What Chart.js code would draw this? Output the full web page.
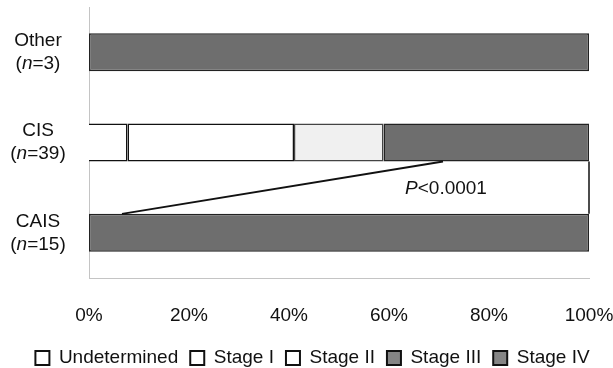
<!DOCTYPE html>
<html>
<head>
<meta charset="utf-8">
<script src="https://cdn.jsdelivr.net/npm/chart.js@4/dist/chart.umd.min.js"></script>
<style>
  html, body { margin: 0; padding: 0; background: #fff; }
  #wrap { width: 613px; height: 368px; }
</style>
</head>
<body>
<div id="wrap"><canvas id="c" width="613" height="368"></canvas></div>
<script>
// Groups (top to bottom) and their sizes
const groups = ['Other', 'CIS', 'CAIS'];
const groupN = [3, 39, 15];

// Stage distribution, percent of each group
const undetermined = [0, 7.7, 0];
const stageI = [0, 33.3, 0];
const stageII = [0, 17.9, 0];
const stageIII = [null, null, null];
const stageIV = [100, 41.1, 100];

// X axis ticks
const xTicks = [0, 20, 40, 60, 80, 100];

// Comparison bracket between CAIS and CIS (percent positions) and its label
const linkFromPct = 6.6;
const linkToPct = 70.8;
const pLabelPct = 71.4;
const pLabel = { italic: 'P', rest: '<0.0001' };

const FONT = '"Liberation Sans", Arial, sans-serif';
const FS = 19;
const DARK = '#6e6e6e';

const seriesStyle = [
  { label: 'Undetermined', fill: '#ffffff', legendFill: '#ffffff', border: '#111', skip: 'start' },
  { label: 'Stage I', fill: '#ffffff', legendFill: '#ffffff', border: '#111', skip: false },
  { label: 'Stage II', fill: '#f0f0f0', legendFill: '#ffffff', border: '#444', skip: false },
  { label: 'Stage III', fill: DARK, legendFill: '#858585', border: '#222', skip: false },
  { label: 'Stage IV', fill: DARK, legendFill: '#858585', border: '#222', skip: false }
];
const seriesData = [undetermined, stageI, stageII, stageIII, stageIV];

const datasets = seriesData.map((d, i) => ({
  label: seriesStyle[i].label,
  data: d,
  backgroundColor: seriesStyle[i].fill,
  borderColor: seriesStyle[i].border,
  borderWidth: 1.5,
  borderSkipped: seriesStyle[i].skip,
  barPercentage: 0.42,
  categoryPercentage: 1
}));

// Two-line category labels with an italic "n"
const groupLabels = {
  id: 'groupLabels',
  afterDraw(chart) {
    const ctx = chart.ctx;
    const y = chart.scales.y;
    const cx = 38;
    const normal = FS + 'px ' + FONT;
    const italic = 'italic ' + FS + 'px ' + FONT;
    ctx.save();
    ctx.fillStyle = '#111';
    ctx.textBaseline = 'middle';
    groups.forEach((g, i) => {
      const py = y.getPixelForValue(i);
      ctx.font = normal;
      ctx.textAlign = 'center';
      ctx.fillText(g, cx, py - 11.5);
      const a = '(', b = 'n', c = '=' + groupN[i] + ')';
      const wa = ctx.measureText(a).width, wc = ctx.measureText(c).width;
      ctx.font = italic;
      const wb = ctx.measureText(b).width;
      let x = cx - (wa + wb + wc) / 2;
      ctx.textAlign = 'left';
      ctx.font = normal;
      ctx.fillText(a, x, py + 11.5); x += wa;
      ctx.font = italic;
      ctx.fillText(b, x, py + 11.5); x += wb;
      ctx.font = normal;
      ctx.fillText(c, x, py + 11.5);
    });
    ctx.restore();
  }
};

// Bracket linking CAIS to the CIS bar, with the P value
const bracket = {
  id: 'bracket',
  afterDatasetsDraw(chart) {
    const ctx = chart.ctx;
    const xs = chart.scales.x;
    const meta = chart.getDatasetMeta(4);
    const cis = meta.data[1], cais = meta.data[2];
    const cisBottom = cis.y + cis.height / 2;
    const caisTop = cais.y - cais.height / 2;
    ctx.save();
    ctx.strokeStyle = '#111';
    ctx.lineWidth = 2;
    ctx.beginPath();
    ctx.moveTo(xs.getPixelForValue(linkFromPct), caisTop);
    ctx.lineTo(xs.getPixelForValue(linkToPct), cisBottom);
    ctx.stroke();
    ctx.lineWidth = 1.5;
    ctx.beginPath();
    ctx.moveTo(xs.getPixelForValue(100), cisBottom);
    ctx.lineTo(xs.getPixelForValue(100), caisTop);
    ctx.stroke();
    // P value label
    const py = (cisBottom + caisTop) / 2 + 1.5;
    ctx.fillStyle = '#111';
    ctx.textBaseline = 'middle';
    ctx.font = 'italic ' + FS + 'px ' + FONT;
    const w1 = ctx.measureText(pLabel.italic).width;
    ctx.font = FS + 'px ' + FONT;
    const w2 = ctx.measureText(pLabel.rest).width;
    const x = xs.getPixelForValue(pLabelPct) - (w1 + w2) / 2;
    ctx.textAlign = 'left';
    ctx.font = 'italic ' + FS + 'px ' + FONT;
    ctx.fillText(pLabel.italic, x, py);
    ctx.font = FS + 'px ' + FONT;
    ctx.fillText(pLabel.rest, x + w1, py);
    ctx.restore();
  }
};

// Centre the legend row under the whole canvas rather than the padded box
const legendShift = {
  id: 'legendShift',
  afterLayout(chart) {
    const lg = chart.legend;
    if (lg) { lg.left += 18; lg.right += 18; }
  }
};

new Chart(document.getElementById('c'), {
  type: 'bar',
  data: { labels: groups, datasets },
  plugins: [groupLabels, bracket, legendShift],
  options: {
    indexAxis: 'y',
    responsive: false,
    animation: false,
    layout: { padding: { top: 7, right: 24, left: 0, bottom: 0 } },
    scales: {
      x: {
        stacked: true,
        min: 0,
        max: 100,
        afterBuildTicks(scale) { scale.ticks = xTicks.map(v => ({ value: v })); },
        afterFit(scale) {
          scale.height = 58.6;
          scale.paddingLeft = 0;
          scale.paddingRight = 0;
        },
        grid: { display: false, drawTicks: false },
        border: { display: true, color: '#c4c4c4', dash: [1, 2], width: 1 },
        ticks: {
          padding: 26.5,
          color: '#111',
          font: { family: FONT, size: FS },
          maxRotation: 0,
          callback: v => v + '%'
        }
      },
      y: {
        stacked: true,
        grid: { display: false, drawTicks: false },
        border: { display: true, color: '#c4c4c4', dash: [1, 2], width: 1 },
        ticks: { display: false },
        afterFit(scale) { scale.width = 89; }
      }
    },
    plugins: {
      tooltip: { enabled: false },
      legend: {
        position: 'bottom',
        maxHeight: 31.4,
        labels: {
          color: '#111',
          font: { family: FONT, size: FS },
          boxWidth: 14,
          boxHeight: 14,
          padding: 12,
          generateLabels(chart) {
            return chart.data.datasets.map((ds, i) => ({
              text: ds.label,
              fillStyle: seriesStyle[i].legendFill,
              strokeStyle: '#111',
              lineWidth: 2,
              hidden: false,
              datasetIndex: i,
              fontColor: '#111'
            }));
          }
        }
      }
    }
  }
});
</script>
</body>
</html>
